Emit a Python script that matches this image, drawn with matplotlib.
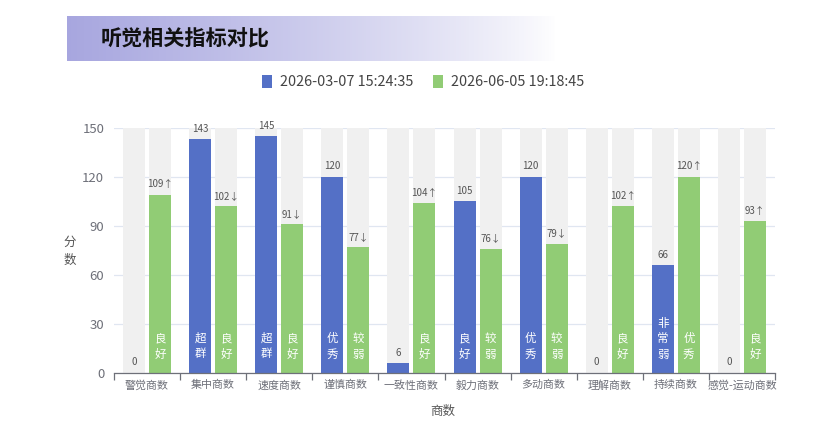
import numpy as np
import matplotlib
matplotlib.use("Agg")
import matplotlib.pyplot as plt
from matplotlib.patches import Patch

plt.rcParams['font.family'] = ['Noto Sans CJK SC', 'DejaVu Sans']

categories = ["警觉商数", "集中商数", "速度商数", "谨慎商数", "一致性商数",
              "毅力商数", "多动商数", "理解商数", "持续商数", "感觉-运动商数"]
series_names = ["2026-03-07 15:24:35", "2026-06-05 19:18:45"]
first_vals = [0, 143, 145, 120, 6, 105, 120, 0, 66, 0]
second_vals = [109, 102, 91, 77, 104, 76, 79, 102, 120, 93]
second_trend = ["↑", "↓", "↓", "↓", "↑", "↓", "↓", "↑", "↑", "↑"]
first_grades = ["", "超群", "超群", "优秀", "", "良好", "优秀", "", "非常弱", ""]
second_grades = ["良好", "良好", "良好", "较弱", "良好", "较弱", "较弱", "良好", "优秀", "良好"]
y_max = 150
y_ticks = [0, 30, 60, 90, 120, 150]

BLUE = "#5470c6"
GREEN = "#91cc75"
BG = "#f0f0f0"
AXIS = "#6e7079"

fig = plt.figure(figsize=(8.25, 4.45), dpi=100)

# title band with fading gradient
band = fig.add_axes([67 / 825, 1 - 61 / 445, 490 / 825, 45 / 445])
grad = np.linspace(0, 1, 256)
rgba = np.zeros((1, 256, 4))
rgba[..., 0] = 0.655
rgba[..., 1] = 0.651
rgba[..., 2] = 0.875
rgba[..., 3] = (1 - grad) ** 0.8
band.imshow(rgba, aspect="auto", extent=[0, 1, 0, 1])
band.set_axis_off()
fig.text(101 / 825, 1 - 39 / 445, "听觉相关指标对比", fontsize=15.2,
         fontweight="bold", color="#111111", va="center", ha="left")

ax = fig.add_axes([114 / 825, 1 - 373 / 445, 661 / 825, 245 / 445])
x = np.arange(len(categories))
off = 0.197
w = 0.333

ax.bar(x - off, [y_max] * len(x), w, color=BG, zorder=1)
ax.bar(x + off, [y_max] * len(x), w, color=BG, zorder=1)
ax.bar(x - off, first_vals, w, color=BLUE, zorder=2)
ax.bar(x + off, second_vals, w, color=GREEN, zorder=2)

for i in x:
    ax.annotate(str(first_vals[i]), (i - off, first_vals[i]), xytext=(0, 4),
                textcoords="offset points", ha="center", va="bottom",
                fontsize=7, color="#555555", zorder=3)
    ax.annotate(f"{second_vals[i]}{second_trend[i]}", (i + off, second_vals[i]),
                xytext=(0, 4), textcoords="offset points", ha="center",
                va="bottom", fontsize=7, color="#555555", zorder=3)
    for xs, g in ((i - off, first_grades[i]), (i + off, second_grades[i])):
        if g:
            ax.annotate("\n".join(g), (xs, 0), xytext=(0, 9),
                        textcoords="offset points", ha="center", va="bottom",
                        fontsize=8.3, color="white", fontweight="medium",
                        linespacing=1.25, zorder=3)

ax.set_xlim(-0.5, len(categories) - 0.5)
ax.set_ylim(0, y_max)
ax.set_yticks(y_ticks)
ax.yaxis.grid(True, color="#e0e6f1", linewidth=0.9, zorder=0)
ax.set_axisbelow(True)
ax.tick_params(axis="y", length=0, pad=7, labelsize=9.5, labelcolor=AXIS)

ax.set_xticks(x)
ax.set_xticklabels(categories)
ax.set_xticks(np.arange(-0.5, len(categories)), minor=True)
ax.tick_params(axis="x", which="major", length=0, pad=5, labelsize=7.9,
               labelcolor=AXIS)
ax.tick_params(axis="x", which="minor", length=5, color=AXIS, width=0.9)

for s in ("top", "right", "left"):
    ax.spines[s].set_visible(False)
ax.spines["bottom"].set_color(AXIS)
ax.spines["bottom"].set_linewidth(0.9)

fig.text(443 / 825, 1 - 411 / 445, "商数", fontsize=9, color="#555555",
         ha="center", va="center")
fig.text(70 / 825, 1 - 251 / 445, "分\n数", fontsize=9, color="#555555",
         ha="center", va="center", linespacing=1.5)

handles = [Patch(facecolor=BLUE, label=series_names[0]),
           Patch(facecolor=GREEN, label=series_names[1])]
fig.legend(handles=handles, loc="center", ncol=2,
           bbox_to_anchor=(423 / 825, 1 - 82 / 445), frameon=False,
           fontsize=10.4, handlelength=0.7, handleheight=1.0,
           handletextpad=0.5, columnspacing=1.4, labelcolor="#444444")

fig.savefig("out.png", dpi=100)
